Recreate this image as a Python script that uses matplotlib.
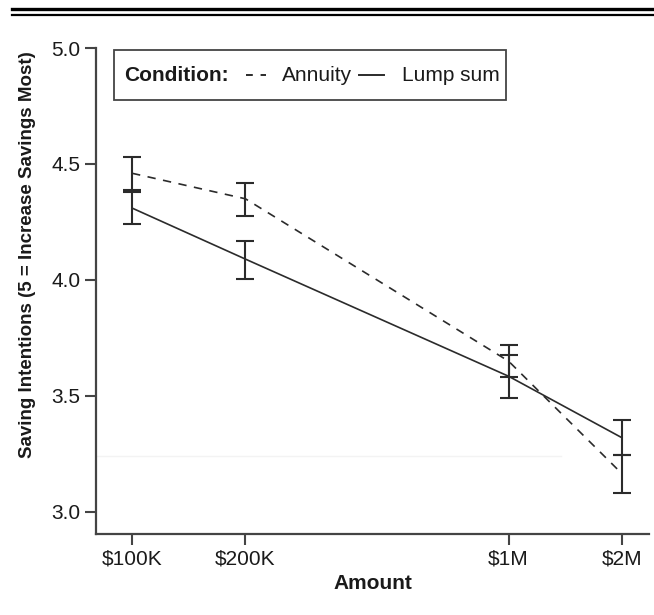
import numpy as np
import matplotlib
matplotlib.use("Agg")
import matplotlib.pyplot as plt
from matplotlib.lines import Line2D
from matplotlib.patches import Rectangle

# data
amounts = [100e3, 200e3, 1e6, 2e6]
tick_labels = ["\\$100K", "\\$200K", "\\$1M", "\\$2M"]

annuity_mean = [4.46, 4.35, 3.65, 3.165]
annuity_lo = [4.39, 4.275, 3.58, 3.08]
annuity_hi = [4.53, 4.42, 3.72, 3.245]

lump_mean = [4.31, 4.09, 3.585, 3.32]
lump_lo = [4.24, 4.005, 3.49, 3.245]
lump_hi = [4.38, 4.17, 3.675, 3.395]

plt.rcParams['font.family'] = ['Liberation Sans', 'DejaVu Sans']
ink = '#2b2b2b'
spine = '#444444'
txt = '#1a1a1a'

fig = plt.figure(figsize=(6.54, 6.15), dpi=100)
ax = fig.add_axes([96 / 654, 1 - 534 / 615, 553 / 654, 486 / 615])

def draw(mean, lo, hi, ls):
    mean = np.array(mean)
    err = np.array([mean - np.array(lo), np.array(hi) - mean])
    ax.errorbar(amounts, mean, yerr=err, color=ink, lw=1.2, ls=ls,
                elinewidth=1.5, capsize=6.5, capthick=1.5)

draw(annuity_mean, annuity_lo, annuity_hi, (0, (5, 4.5)))
draw(lump_mean, lump_lo, lump_hi, '-')

# faint scan line
ax.axhline(3.242, xmin=0, xmax=0.84, color='#f3f3f3', lw=1, zorder=0)

ax.set_xscale('log')
ax.set_xlim(80.2e3, 2.36e6)
ax.set_ylim(2.905, 5.0)
ax.set_xticks(amounts)
ax.set_xticklabels(tick_labels)
ax.xaxis.set_minor_locator(matplotlib.ticker.NullLocator())
ax.set_yticks([3.0, 3.5, 4.0, 4.5, 5.0])
ax.set_yticklabels(["3.0", "3.5", "4.0", "4.5", "5.0"])
ax.tick_params(axis='both', labelsize=15, length=8, width=1.5, color=spine,
               labelcolor=txt, pad=3)

for s in ['top', 'right']:
    ax.spines[s].set_visible(False)
for s in ['left', 'bottom']:
    ax.spines[s].set_color(spine)
    ax.spines[s].set_linewidth(1.6)

ax.set_xlabel("Amount", fontsize=15, fontweight='bold', color=txt, labelpad=4)
ax.set_ylabel("Saving Intentions (5 = Increase Savings Most)", fontsize=13.5,
              fontweight='bold', color=txt)
ax.yaxis.set_label_coords(-60 / 553, 0.574)

# legend box built by hand
ax.add_patch(Rectangle((0.0326, 0.893), 0.708, 0.103, transform=ax.transAxes,
                       fill=False, edgecolor=spine, lw=1.3, clip_on=False))
ax.text(0.0506, 0.944, "Condition:", transform=ax.transAxes, fontsize=15,
        fontweight='bold', va='center', ha='left', color=txt)
ax.add_line(Line2D([0.271, 0.307], [0.944, 0.944], transform=ax.transAxes,
                   color=ink, lw=1.4, ls=(0, (3.5, 4))))
ax.text(0.336, 0.944, "Annuity", transform=ax.transAxes, fontsize=15,
        va='center', ha='left', color=txt)
ax.add_line(Line2D([0.476, 0.521], [0.944, 0.944], transform=ax.transAxes,
                   color=ink, lw=1.4))
ax.text(0.553, 0.944, "Lump sum", transform=ax.transAxes, fontsize=15,
        va='center', ha='left', color=txt)

# double rule at top
fig.add_artist(Line2D([12 / 654, 1], [1 - 9 / 615] * 2, color='black', lw=2.4))
fig.add_artist(Line2D([12 / 654, 1], [1 - 14.7 / 615] * 2, color='black', lw=1.6))

fig.savefig("out.png", dpi=100)
